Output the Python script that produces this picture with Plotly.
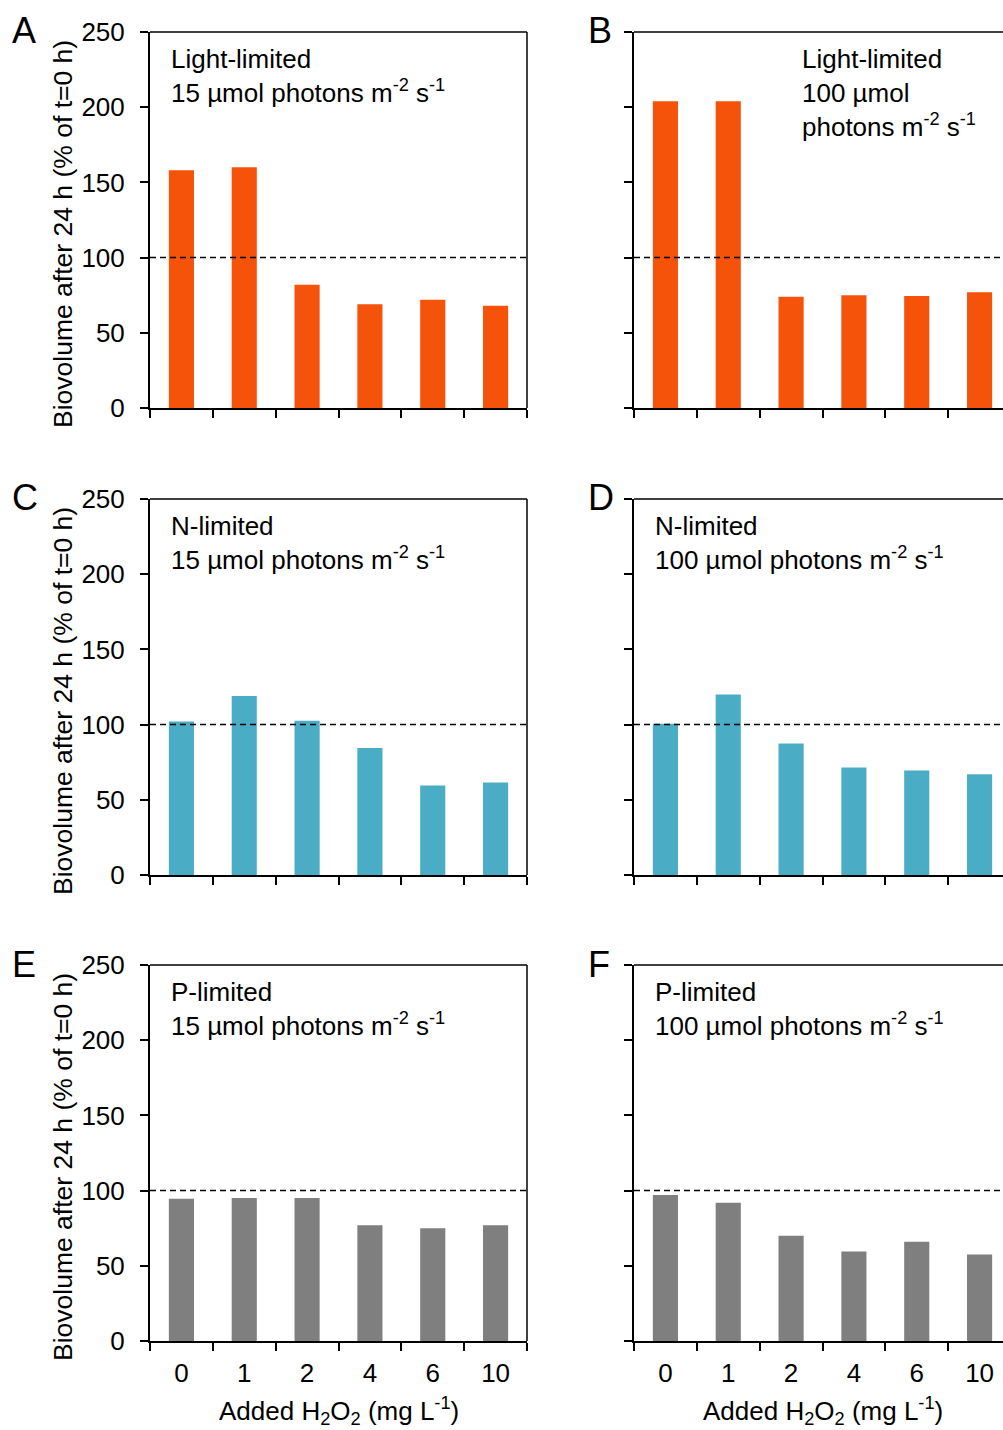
import plotly.graph_objects as go

W, H = 1003, 1430
FONT = "Liberation Sans, Arial, sans-serif"

# ---- data ----
categories = ["0", "1", "2", "4", "6", "10"]
light_15 = [158, 160, 82, 69, 72, 68]
light_100 = [204, 204, 74, 75, 74.5, 77]
n_15 = [102, 119, 102.5, 84.5, 59.5, 61.5]
n_100 = [100.5, 120, 87.5, 71.5, 69.5, 67]
p_15 = [94.5, 95, 95, 77, 75, 77]
p_100 = [97, 92, 70, 59.5, 66, 57.5]
y_ticks = [0, 50, 100, 150, 200, 250]
panel_letters = ["A", "B", "C", "D", "E", "F"]
panel_texts = [
    "Light-limited<br>15 µmol photons m<sup>-2</sup> s<sup>-1</sup>",
    "Light-limited<br>100 µmol<br>photons m<sup>-2</sup> s<sup>-1</sup>",
    "N-limited<br>15 µmol photons m<sup>-2</sup> s<sup>-1</sup>",
    "N-limited<br>100 µmol photons m<sup>-2</sup> s<sup>-1</sup>",
    "P-limited<br>15 µmol photons m<sup>-2</sup> s<sup>-1</sup>",
    "P-limited<br>100 µmol photons m<sup>-2</sup> s<sup>-1</sup>",
]
series = [light_15, light_100, n_15, n_100, p_15, p_100]
colors = ["#F5530A", "#F5530A", "#4BACC6", "#4BACC6", "#7F7F7F", "#7F7F7F"]
y_title = "Biovolume after 24 h (% of t=0 h)"
x_title = "Added H<sub>2</sub>O<sub>2</sub> (mg L<sup>-1</sup>)"

# ---- layout geometry (pixels) ----
col_x0 = [150, 634]
col_x1 = [527, 1003]
cat_w = (527 - 150) / 6.0
row_top = [32, 499, 965]
row_bot = [408, 875, 1341]


def px(x):
    return x / W


def py(y):
    return 1 - y / H


fig = go.Figure()
layout = dict(
    width=W, height=H, margin=dict(l=0, r=0, t=0, b=0, pad=0, autoexpand=False),
    paper_bgcolor="white", plot_bgcolor="white",
    showlegend=False, bargap=0.6,
    font=dict(family=FONT, size=26, color="black"),
)
shapes = []
annotations = []

for i in range(6):
    r, c = divmod(i, 2)
    n = i + 1
    xa = "x" if n == 1 else f"x{n}"
    ya = "y" if n == 1 else f"y{n}"
    fig.add_trace(go.Bar(x=categories, y=series[i], marker_color=colors[i],
                         marker_line_width=0, xaxis=xa, yaxis=ya))
    x0, x1 = col_x0[c], col_x1[c]
    rng_end = -0.5 + (x1 - x0) / cat_w
    layout[f"xaxis{n}"] = dict(
        domain=[px(x0), px(x1)], anchor=ya, type="category",
        categoryorder="array", categoryarray=categories,
        range=[-0.5, rng_end], tickson="boundaries", automargin=False,
        ticks="outside", ticklen=8, tickwidth=1.5, tickcolor="black",
        ticklabelstandoff=8,
        showline=True, linewidth=2, linecolor="black", showgrid=False,
        showticklabels=(r == 2), tickfont=dict(size=26, family=FONT),
    )
    layout[f"yaxis{n}"] = dict(
        domain=[py(row_bot[r]), py(row_top[r])], anchor=xa, automargin=False,
        range=[0, 250], tickvals=y_ticks, ticks="outside", ticklen=8,
        ticklabelstandoff=10,
        tickwidth=1.5, tickcolor="black", showline=True, linewidth=2,
        linecolor="black", showgrid=False, zeroline=False,
        showticklabels=(c == 0), tickfont=dict(size=26, family=FONT),
    )
    # top border
    shapes.append(dict(type="line", xref="paper", yref="paper",
                       x0=px(x0), x1=px(x1), y0=py(row_top[r]), y1=py(row_top[r]),
                       line=dict(color="black", width=1.5)))
    if c == 0:
        shapes.append(dict(type="line", xref="paper", yref="paper",
                           x0=px(x1), x1=px(x1), y0=py(row_bot[r]), y1=py(row_top[r]),
                           line=dict(color="black", width=1.5)))
    # dashed reference line at 100%
    shapes.append(dict(type="line", xref=f"{xa} domain", yref=ya,
                       x0=0, x1=1, y0=100, y1=100,
                       line=dict(color="black", width=1.5, dash="6px,4px")))
    # panel letter
    annotations.append(dict(text=panel_letters[i], xref="paper", yref="paper",
                            x=px(10 if c == 0 else 586), y=py(row_top[r] - 1),
                            xanchor="left", yanchor="middle", showarrow=False,
                            font=dict(size=36, family=FONT)))
    # panel description
    tx = 169 if c == 0 else (800 if i == 1 else 653)
    annotations.append(dict(text=panel_texts[i], xref="paper", yref="paper",
                            x=px(tx), y=py(row_top[r] + 10), xanchor="left",
                            yanchor="top", align="left", showarrow=False,
                            font=dict(size=26, family=FONT)))
    if c == 0:
        annotations.append(dict(text=y_title, xref="paper", yref="paper",
                                x=px(63), y=py((row_top[r] + row_bot[r]) / 2 + 14),
                                xanchor="center", yanchor="middle", textangle=-90,
                                showarrow=False, font=dict(size=26.5, family=FONT)))
    if r == 2:
        xc = (col_x0[c] + col_x0[c] + 377) / 2
        annotations.append(dict(text=x_title, xref="paper", yref="paper",
                                x=px(xc), y=py(1411), xanchor="center",
                                yanchor="middle", showarrow=False,
                                font=dict(size=26, family=FONT)))

layout["shapes"] = shapes
layout["annotations"] = annotations
fig.update_layout(**layout)
fig.write_html(
    "out.html",
    config={"displayModeBar": False},
    post_script="document.body.style.margin='0';document.body.style.padding='0';"
                "document.documentElement.style.overflow='hidden';",
)
